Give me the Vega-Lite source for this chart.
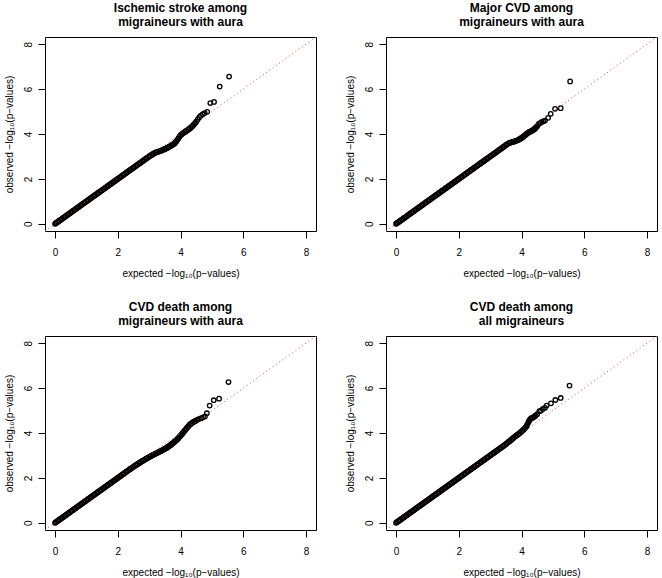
{
  "$schema": "https://vega.github.io/schema/vega-lite/v6.json",
  "padding": {"left": 3, "top": 1, "right": 5, "bottom": 5},
  "background": "white",
  "datasets": {
    "diag": [{"x": -0.32, "y": -0.32}, {"x": 8.32, "y": 8.32}],
    "base": [
      {"x":0,"y":0},{"x":0.025,"y":0.025},{"x":0.05,"y":0.05},{"x":0.075,"y":0.075},{"x":0.1,"y":0.1},{"x":0.125,"y":0.125},{"x":0.15,"y":0.15},{"x":0.175,"y":0.175},
      {"x":0.2,"y":0.2},{"x":0.225,"y":0.225},{"x":0.25,"y":0.25},{"x":0.275,"y":0.275},{"x":0.3,"y":0.3},{"x":0.325,"y":0.325},{"x":0.35,"y":0.35},{"x":0.375,"y":0.375},
      {"x":0.4,"y":0.4},{"x":0.425,"y":0.425},{"x":0.45,"y":0.45},{"x":0.475,"y":0.475},{"x":0.5,"y":0.5},{"x":0.525,"y":0.525},{"x":0.55,"y":0.55},{"x":0.575,"y":0.575},
      {"x":0.6,"y":0.6},{"x":0.625,"y":0.625},{"x":0.65,"y":0.65},{"x":0.675,"y":0.675},{"x":0.7,"y":0.7},{"x":0.725,"y":0.725},{"x":0.75,"y":0.75},{"x":0.775,"y":0.775},
      {"x":0.8,"y":0.8},{"x":0.825,"y":0.825},{"x":0.85,"y":0.85},{"x":0.875,"y":0.875},{"x":0.9,"y":0.9},{"x":0.925,"y":0.925},{"x":0.95,"y":0.95},{"x":0.975,"y":0.975},
      {"x":1,"y":1},{"x":1.025,"y":1.025},{"x":1.05,"y":1.05},{"x":1.075,"y":1.075},{"x":1.1,"y":1.1},{"x":1.125,"y":1.125},{"x":1.15,"y":1.15},{"x":1.175,"y":1.175},
      {"x":1.2,"y":1.2},{"x":1.225,"y":1.225},{"x":1.25,"y":1.25},{"x":1.275,"y":1.275},{"x":1.3,"y":1.3},{"x":1.325,"y":1.325},{"x":1.35,"y":1.35},{"x":1.375,"y":1.375},
      {"x":1.4,"y":1.4},{"x":1.425,"y":1.425},{"x":1.45,"y":1.45},{"x":1.475,"y":1.475},{"x":1.5,"y":1.5},{"x":1.525,"y":1.525},{"x":1.55,"y":1.55},{"x":1.575,"y":1.575},
      {"x":1.6,"y":1.6},{"x":1.625,"y":1.625},{"x":1.65,"y":1.65},{"x":1.675,"y":1.675},{"x":1.7,"y":1.7},{"x":1.725,"y":1.725},{"x":1.75,"y":1.75},{"x":1.775,"y":1.775},
      {"x":1.8,"y":1.8},{"x":1.825,"y":1.825},{"x":1.85,"y":1.85},{"x":1.875,"y":1.875},{"x":1.9,"y":1.9},{"x":1.925,"y":1.925},{"x":1.95,"y":1.95},{"x":1.975,"y":1.975},
      {"x":2,"y":2},{"x":2.025,"y":2.025},{"x":2.05,"y":2.05},{"x":2.075,"y":2.075},{"x":2.1,"y":2.1},{"x":2.125,"y":2.125},{"x":2.15,"y":2.15},{"x":2.175,"y":2.175},
      {"x":2.2,"y":2.2},{"x":2.225,"y":2.225},{"x":2.25,"y":2.25},{"x":2.275,"y":2.275},{"x":2.3,"y":2.3},{"x":2.325,"y":2.325},{"x":2.35,"y":2.35},{"x":2.375,"y":2.375},
      {"x":2.4,"y":2.4},{"x":2.425,"y":2.425},{"x":2.45,"y":2.45},{"x":2.475,"y":2.475},{"x":2.5,"y":2.5},{"x":2.525,"y":2.525},{"x":2.55,"y":2.55},{"x":2.575,"y":2.575},
      {"x":2.6,"y":2.6},{"x":2.625,"y":2.625},{"x":2.65,"y":2.65},{"x":2.675,"y":2.675},{"x":2.7,"y":2.7},{"x":2.725,"y":2.725},{"x":2.75,"y":2.75},{"x":2.775,"y":2.775},
      {"x":2.8,"y":2.8},{"x":2.825,"y":2.825},{"x":2.85,"y":2.85},{"x":2.875,"y":2.875},{"x":2.9,"y":2.9},{"x":2.925,"y":2.925},{"x":2.95,"y":2.95},{"x":2.975,"y":2.975},
      {"x":3,"y":3},{"x":3.025,"y":3.025},{"x":3.05,"y":3.05},{"x":3.075,"y":3.075},{"x":3.1,"y":3.1},{"x":3.125,"y":3.125},{"x":3.15,"y":3.15},{"x":3.175,"y":3.175},
      {"x":3.2,"y":3.2},{"x":3.225,"y":3.225},{"x":3.25,"y":3.25},{"x":3.275,"y":3.275},{"x":3.3,"y":3.3},{"x":3.325,"y":3.325},{"x":3.35,"y":3.35},{"x":3.375,"y":3.375},
      {"x":3.4,"y":3.4},{"x":3.425,"y":3.425},{"x":3.45,"y":3.45},{"x":3.475,"y":3.475},{"x":3.5,"y":3.5},{"x":3.525,"y":3.525},{"x":3.55,"y":3.55},{"x":3.575,"y":3.575}
    ],
    "ischemic": [
      {"x":3.025,"y":3.024},{"x":3.05,"y":3.047},{"x":3.075,"y":3.07},{"x":3.1,"y":3.092},
      {"x":3.125,"y":3.113},{"x":3.15,"y":3.133},{"x":3.175,"y":3.152},{"x":3.2,"y":3.17},{"x":3.225,"y":3.186},{"x":3.25,"y":3.2},{"x":3.275,"y":3.21},{"x":3.3,"y":3.22},
      {"x":3.325,"y":3.23},{"x":3.35,"y":3.24},{"x":3.375,"y":3.255},{"x":3.4,"y":3.27},{"x":3.425,"y":3.285},{"x":3.45,"y":3.3},{"x":3.475,"y":3.315},{"x":3.5,"y":3.33},
      {"x":3.525,"y":3.345},{"x":3.55,"y":3.36},{"x":3.575,"y":3.38},{"x":3.6,"y":3.4},{"x":3.625,"y":3.42},{"x":3.65,"y":3.44},{"x":3.675,"y":3.46},{"x":3.7,"y":3.48},
      {"x":3.725,"y":3.505},{"x":3.75,"y":3.525},{"x":3.775,"y":3.545},{"x":3.8,"y":3.57},{"x":3.825,"y":3.6},{"x":3.85,"y":3.64},{"x":3.875,"y":3.69},{"x":3.9,"y":3.74},
      {"x":3.925,"y":3.79},{"x":3.95,"y":3.84},{"x":3.975,"y":3.89},{"x":4,"y":3.94},{"x":4.025,"y":3.975},{"x":4.05,"y":4.005},{"x":4.075,"y":4.03},{"x":4.1,"y":4.055},
      {"x":4.125,"y":4.08},{"x":4.15,"y":4.1},{"x":4.175,"y":4.125},{"x":4.2,"y":4.15},{"x":4.225,"y":4.175},{"x":4.25,"y":4.2},{"x":4.275,"y":4.225},{"x":4.3,"y":4.25},
      {"x":4.325,"y":4.28},{"x":4.35,"y":4.31},{"x":4.375,"y":4.345},{"x":4.4,"y":4.38},{"x":4.425,"y":4.42},{"x":4.45,"y":4.46},{"x":4.475,"y":4.5},{"x":4.5,"y":4.55},
      {"x":4.55,"y":4.65},{"x":4.6,"y":4.75},{"x":4.65,"y":4.82},{"x":4.71,"y":4.88},{"x":4.77,"y":4.93},{"x":4.85,"y":4.99},{"x":4.95,"y":5.38},{"x":5.07,"y":5.43},{"x":5.25,"y":6.11},{"x":5.55,"y":6.56}
    ],
    "majorcvd": [
      {"x":3.6,"y":3.59},{"x":3.625,"y":3.605},{"x":3.65,"y":3.62},{"x":3.675,"y":3.63},{"x":3.7,"y":3.64},{"x":3.725,"y":3.65},{"x":3.75,"y":3.66},{"x":3.775,"y":3.67},
      {"x":3.8,"y":3.68},{"x":3.825,"y":3.695},{"x":3.85,"y":3.71},{"x":3.875,"y":3.725},{"x":3.9,"y":3.74},{"x":3.925,"y":3.76},{"x":3.95,"y":3.78},{"x":3.975,"y":3.8},
      {"x":4,"y":3.82},{"x":4.025,"y":3.845},{"x":4.05,"y":3.87},{"x":4.075,"y":3.9},{"x":4.1,"y":3.93},{"x":4.125,"y":3.96},{"x":4.15,"y":3.99},{"x":4.175,"y":4.02},
      {"x":4.2,"y":4.05},{"x":4.225,"y":4.07},{"x":4.25,"y":4.09},{"x":4.275,"y":4.105},{"x":4.3,"y":4.12},{"x":4.325,"y":4.14},{"x":4.35,"y":4.16},{"x":4.375,"y":4.18},
      {"x":4.4,"y":4.2},{"x":4.425,"y":4.235},{"x":4.45,"y":4.27},{"x":4.475,"y":4.31},{"x":4.5,"y":4.35},
      {"x":4.55,"y":4.45},{"x":4.6,"y":4.5},{"x":4.65,"y":4.54},{"x":4.7,"y":4.57},{"x":4.75,"y":4.6},{"x":4.85,"y":4.72},{"x":4.93,"y":4.9},{"x":5.07,"y":5.12},{"x":5.25,"y":5.15},{"x":5.55,"y":6.34}
    ],
    "deathaura": [
      {"x":2.425,"y":2.424},{"x":2.45,"y":2.448},{"x":2.475,"y":2.472},{"x":2.5,"y":2.496},{"x":2.525,"y":2.52},{"x":2.55,"y":2.543},{"x":2.575,"y":2.566},{"x":2.6,"y":2.589},
      {"x":2.625,"y":2.612},{"x":2.65,"y":2.634},{"x":2.675,"y":2.656},{"x":2.7,"y":2.678},{"x":2.725,"y":2.7},{"x":2.75,"y":2.722},{"x":2.775,"y":2.743},{"x":2.8,"y":2.764},
      {"x":2.825,"y":2.785},{"x":2.85,"y":2.806},{"x":2.875,"y":2.827},{"x":2.9,"y":2.848},{"x":2.925,"y":2.868},{"x":2.95,"y":2.888},{"x":2.975,"y":2.908},{"x":3,"y":2.928},
      {"x":3.025,"y":2.947},{"x":3.05,"y":2.966},{"x":3.075,"y":2.985},{"x":3.1,"y":3.004},{"x":3.125,"y":3.022},{"x":3.15,"y":3.04},{"x":3.175,"y":3.058},{"x":3.2,"y":3.076},
      {"x":3.225,"y":3.094},{"x":3.25,"y":3.112},{"x":3.275,"y":3.13},{"x":3.3,"y":3.148},{"x":3.325,"y":3.166},{"x":3.35,"y":3.184},{"x":3.375,"y":3.202},{"x":3.4,"y":3.22},
      {"x":3.425,"y":3.238},{"x":3.45,"y":3.256},{"x":3.475,"y":3.275},{"x":3.5,"y":3.294},{"x":3.525,"y":3.314},{"x":3.55,"y":3.335},{"x":3.575,"y":3.357},{"x":3.6,"y":3.38},
      {"x":3.625,"y":3.404},{"x":3.65,"y":3.429},{"x":3.675,"y":3.455},{"x":3.7,"y":3.482},{"x":3.725,"y":3.511},{"x":3.75,"y":3.54},{"x":3.775,"y":3.57},{"x":3.8,"y":3.6},
      {"x":3.825,"y":3.63},{"x":3.85,"y":3.66},{"x":3.875,"y":3.69},{"x":3.9,"y":3.72},{"x":3.925,"y":3.76},{"x":3.95,"y":3.8},{"x":3.975,"y":3.84},{"x":4,"y":3.88},
      {"x":4.025,"y":3.92},{"x":4.05,"y":3.96},{"x":4.075,"y":4.005},{"x":4.1,"y":4.05},{"x":4.125,"y":4.09},{"x":4.15,"y":4.13},{"x":4.175,"y":4.175},{"x":4.2,"y":4.22},
      {"x":4.225,"y":4.26},{"x":4.25,"y":4.3},{"x":4.275,"y":4.34},{"x":4.3,"y":4.38},{"x":4.325,"y":4.405},{"x":4.35,"y":4.43},{"x":4.375,"y":4.455},{"x":4.4,"y":4.48},
      {"x":4.425,"y":4.5},{"x":4.45,"y":4.52},{"x":4.475,"y":4.54},{"x":4.5,"y":4.56},
      {"x":4.55,"y":4.6},{"x":4.6,"y":4.63},{"x":4.66,"y":4.66},{"x":4.72,"y":4.7},{"x":4.78,"y":4.74},{"x":4.84,"y":4.88},{"x":4.93,"y":5.22},{"x":5.06,"y":5.46},{"x":5.23,"y":5.53},{"x":5.53,"y":6.27}
    ],
    "deathall": [
      {"x":3.525,"y":3.53},{"x":3.55,"y":3.56},{"x":3.575,"y":3.59},{"x":3.6,"y":3.62},{"x":3.625,"y":3.645},{"x":3.65,"y":3.67},{"x":3.675,"y":3.7},{"x":3.7,"y":3.73},
      {"x":3.725,"y":3.76},{"x":3.75,"y":3.79},{"x":3.775,"y":3.82},{"x":3.8,"y":3.85},{"x":3.825,"y":3.875},{"x":3.85,"y":3.9},{"x":3.875,"y":3.925},{"x":3.9,"y":3.95},
      {"x":3.925,"y":3.98},{"x":3.95,"y":4.01},{"x":3.975,"y":4.04},{"x":4,"y":4.07},{"x":4.025,"y":4.1},{"x":4.05,"y":4.13},{"x":4.075,"y":4.165},{"x":4.1,"y":4.2},
      {"x":4.125,"y":4.24},{"x":4.15,"y":4.28},{"x":4.175,"y":4.35},{"x":4.2,"y":4.42},{"x":4.225,"y":4.49},{"x":4.25,"y":4.56},{"x":4.275,"y":4.61},{"x":4.3,"y":4.65},
      {"x":4.325,"y":4.665},{"x":4.35,"y":4.68},{"x":4.375,"y":4.7},{"x":4.4,"y":4.72},{"x":4.425,"y":4.75},{"x":4.45,"y":4.78},
      {"x":4.5,"y":4.84},{"x":4.57,"y":4.97},{"x":4.62,"y":5},{"x":4.68,"y":5.07},{"x":4.75,"y":5.12},{"x":4.8,"y":5.22},{"x":4.94,"y":5.32},{"x":5.08,"y":5.47},{"x":5.25,"y":5.56},{"x":5.53,"y":6.11}
    ]
  },
  "columns": 2,
  "bounds": "flush",
  "spacing": {"row": 105, "column": 70},
  "concat": [
    {
      "title": {"text": ["Ischemic stroke among", "migraineurs with aura"]},
      "width": 271, "height": 194,
      "encoding": {
        "x": {"field": "x", "type": "quantitative", "scale": {"domain": [-0.32, 8.32], "nice": false, "zero": false}, "axis": {"values": [0,2,4,6,8], "title": "expected −log₁₀(p−values)"}},
        "y": {"field": "y", "type": "quantitative", "scale": {"domain": [-0.32, 8.32], "nice": false, "zero": false}, "axis": {"values": [0,2,4,6,8], "title": "observed −log₁₀(p−values)"}}
      },
      "layer": [
        {"data": {"name": "base"}, "transform": [{"filter": "datum.x <= 3.0"}], "mark": {"type": "point", "shape": "circle", "filled": false, "stroke": "black", "strokeWidth": 1.3, "size": 20, "opacity": 1}},
        {"data": {"name": "ischemic"}, "mark": {"type": "point", "shape": "circle", "filled": false, "stroke": "black", "strokeWidth": 1.3, "size": 20, "opacity": 1}},
        {"data": {"name": "diag"}, "mark": {"type": "line", "color": "#dd4444", "strokeWidth": 1, "strokeDash": [1, 3], "clip": true}, "encoding": {}}
      ]
    },
    {
      "title": {"text": ["Major CVD among", "migraineurs with aura"]},
      "width": 271, "height": 194,
      "encoding": {
        "x": {"field": "x", "type": "quantitative", "scale": {"domain": [-0.32, 8.32], "nice": false, "zero": false}, "axis": {"values": [0,2,4,6,8], "title": "expected −log₁₀(p−values)"}},
        "y": {"field": "y", "type": "quantitative", "scale": {"domain": [-0.32, 8.32], "nice": false, "zero": false}, "axis": {"values": [0,2,4,6,8], "title": "observed −log₁₀(p−values)"}}
      },
      "layer": [
        {"data": {"name": "base"}, "transform": [{"filter": "datum.x <= 3.575"}], "mark": {"type": "point", "shape": "circle", "filled": false, "stroke": "black", "strokeWidth": 1.3, "size": 20, "opacity": 1}},
        {"data": {"name": "majorcvd"}, "mark": {"type": "point", "shape": "circle", "filled": false, "stroke": "black", "strokeWidth": 1.3, "size": 20, "opacity": 1}},
        {"data": {"name": "diag"}, "mark": {"type": "line", "color": "#dd4444", "strokeWidth": 1, "strokeDash": [1, 3], "clip": true}, "encoding": {}}
      ]
    },
    {
      "title": {"text": ["CVD death among", "migraineurs with aura"]},
      "width": 271, "height": 194,
      "encoding": {
        "x": {"field": "x", "type": "quantitative", "scale": {"domain": [-0.32, 8.32], "nice": false, "zero": false}, "axis": {"values": [0,2,4,6,8], "title": "expected −log₁₀(p−values)"}},
        "y": {"field": "y", "type": "quantitative", "scale": {"domain": [-0.32, 8.32], "nice": false, "zero": false}, "axis": {"values": [0,2,4,6,8], "title": "observed −log₁₀(p−values)"}}
      },
      "layer": [
        {"data": {"name": "base"}, "transform": [{"filter": "datum.x <= 2.4"}], "mark": {"type": "point", "shape": "circle", "filled": false, "stroke": "black", "strokeWidth": 1.3, "size": 20, "opacity": 1}},
        {"data": {"name": "deathaura"}, "mark": {"type": "point", "shape": "circle", "filled": false, "stroke": "black", "strokeWidth": 1.3, "size": 20, "opacity": 1}},
        {"data": {"name": "diag"}, "mark": {"type": "line", "color": "#dd4444", "strokeWidth": 1, "strokeDash": [1, 3], "clip": true}, "encoding": {}}
      ]
    },
    {
      "title": {"text": ["CVD death among", "all migraineurs"]},
      "width": 271, "height": 194,
      "encoding": {
        "x": {"field": "x", "type": "quantitative", "scale": {"domain": [-0.32, 8.32], "nice": false, "zero": false}, "axis": {"values": [0,2,4,6,8], "title": "expected −log₁₀(p−values)"}},
        "y": {"field": "y", "type": "quantitative", "scale": {"domain": [-0.32, 8.32], "nice": false, "zero": false}, "axis": {"values": [0,2,4,6,8], "title": "observed −log₁₀(p−values)"}}
      },
      "layer": [
        {"data": {"name": "base"}, "transform": [{"filter": "datum.x <= 3.5"}], "mark": {"type": "point", "shape": "circle", "filled": false, "stroke": "black", "strokeWidth": 1.3, "size": 20, "opacity": 1}},
        {"data": {"name": "deathall"}, "mark": {"type": "point", "shape": "circle", "filled": false, "stroke": "black", "strokeWidth": 1.3, "size": 20, "opacity": 1}},
        {"data": {"name": "diag"}, "mark": {"type": "line", "color": "#dd4444", "strokeWidth": 1, "strokeDash": [1, 3], "clip": true}, "encoding": {}}
      ]
    }
  ],
  "config": {
    "font": "Liberation Sans",
    "view": {"stroke": "black", "strokeWidth": 1},
    "axis": {"grid": false, "domain": false, "tickColor": "black", "tickSize": 7, "labelColor": "black", "labelFontSize": 10, "labelFont": "Liberation Sans", "titleFontSize": 10, "titleFont": "Liberation Sans", "titleFontWeight": "normal", "titleColor": "black", "labelFlush": false},
    "axisX": {"labelPadding": 9, "titlePadding": 11},
    "axisY": {"labelAngle": 270, "labelAlign": "center", "labelBaseline": "bottom", "labelPadding": 5, "titlePadding": 9},
    "title": {"fontSize": 12, "fontWeight": "bold", "font": "Liberation Sans", "color": "black", "lineHeight": 14, "offset": 8, "baseline": "bottom", "anchor": "middle"}
  }
}
